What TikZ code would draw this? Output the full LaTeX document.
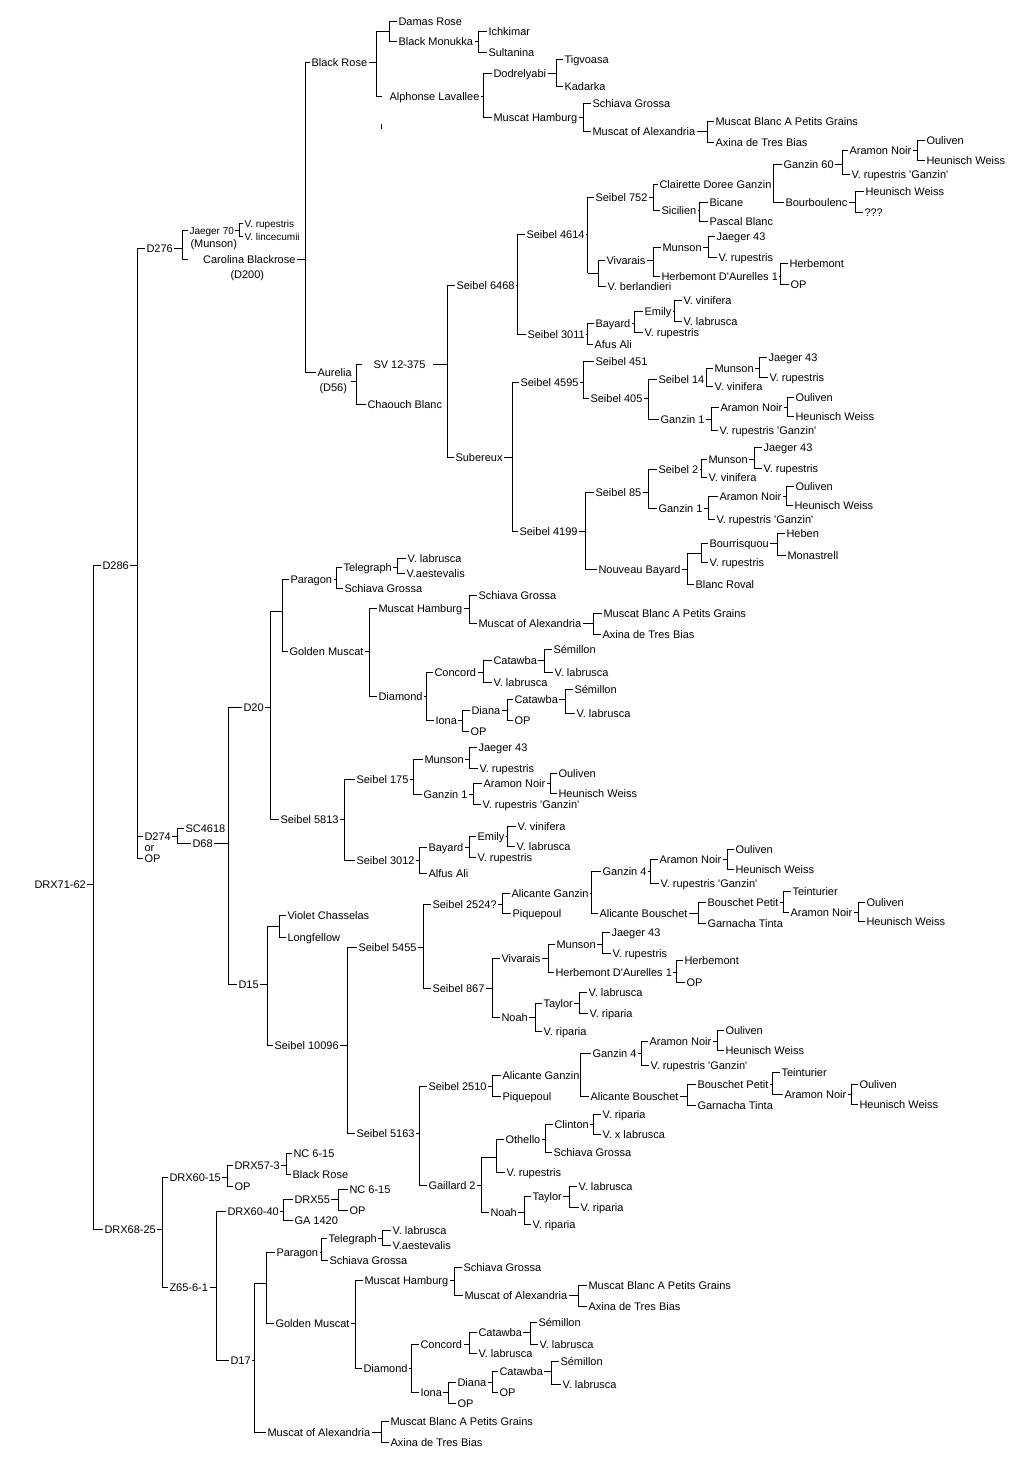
\documentclass[tikz,border=0pt]{standalone}
\usepackage{fontspec}
\setmainfont{Liberation Sans}[Ligatures=TeXOff]
\newcommand\pair[4]{%
  \coordinate (bar) at (#2,0);
  \draw (#1.east) -- (#1.east -| bar);
  \draw (#3.west) -- (#3.west -| bar) -- (#4.west -| bar) -- (#4.west);}

\begin{document}
\begin{tikzpicture}[x=1pt,y=-1pt,line width=1pt,
    every node/.style={anchor=west,inner xsep=1pt,inner ysep=0pt,text height=9pt,text depth=1pt,font=\fontsize{11}{13}\selectfont},
    junc/.style={inner sep=0pt,text height=0pt,text depth=0pt,minimum size=0pt},
    small/.style={font=\fontsize{10}{11}\selectfont,text height=8pt,text depth=0pt}]
    \fill[white] (0,0) rectangle (1010,1457);
    \node (root) at (33,884) {DRX71-62};
    \node (d286) at (101,565) {D286};
    \node (drx6825) at (103,1229) {DRX68-25};
    \pair{root}{93}{d286}{drx6825}

    \node (d276) at (145,248) {D276};
    \node (d274) at (143,836) {D274};
    \node (ortext) at (143,847) {or};
    \node (opd) at (143,858) {OP};
    \pair{d286}{137}{d276}{opd}
    \draw (d274.west -| bar) -- (d274.west);

    \node[small] (jaeger70) at (188,230) {Jaeger 70};
    \node (munsonnote) at (189,243) {(Munson)};
    \node[anchor=east] (carolina) at (297,259) {Carolina Blackrose};
    \node (d200) at (229,274) {(D200)};
    \coordinate (bar) at (182,0);
    \draw (d276.east) -- (d276.east -| bar);
    \draw (jaeger70.west) -- (jaeger70.west -| bar) -- (carolina.west -| bar) -- ++(6,0);
    \node[small] (vrup0) at (243,223) {V. rupestris};
    \node[small] (vlinc) at (243,236) {V. lincecumii};
    \pair{jaeger70}{239}{vrup0}{vlinc}

    \node (blackrose) at (310,62) {Black Rose};
    \node (aurelia) at (316,372) {Aurelia};
    \node (d56) at (318,387) {(D56)};
    \node[junc] (aureliaout) at (350,381) {};
    \pair{carolina}{305}{blackrose}{aurelia}

    \node[junc] (brx) at (376,31) {};
    \node[junc] (alphx) at (382,96) {};
    \node (alphonse) at (388,96) {Alphonse Lavallee};
    \pair{blackrose}{376}{brx}{alphx}
    \node (damas) at (397,21) {Damas Rose};
    \node (monukka) at (397,41) {Black Monukka};
    \pair{brx}{389}{damas}{monukka}
    \node (ichkimar) at (487,31) {Ichkimar};
    \node (sultanina) at (487,52) {Sultanina};
    \pair{monukka}{478}{ichkimar}{sultanina}
    \node (dodrelyabi) at (492,73) {Dodrelyabi};
    \node (hamburgA) at (492,117) {Muscat Hamburg};
    \pair{alphonse}{483}{dodrelyabi}{hamburgA}
    \node (tigvoasa) at (563,59) {Tigvoasa};
    \node (kadarka) at (563,86) {Kadarka};
    \pair{dodrelyabi}{556}{tigvoasa}{kadarka}
    \node (schiavaA) at (591,103) {Schiava Grossa};
    \node (alexA) at (591,131) {Muscat of Alexandria};
    \pair{hamburgA}{583}{schiavaA}{alexA}
    \node (blancA) at (714,121) {Muscat Blanc A Petits Grains};
    \node (axinaA) at (714,142) {Axina de Tres Bias};
    \pair{alexA}{707}{blancA}{axinaA}
    \draw (381,124) -- (381,129);

    \node[junc] (svin) at (362,364) {};
    \node (sv12375) at (372,364) {SV 12-375};
    \node[junc] (svout) at (432,364) {};
    \node (chaouch) at (366,404) {Chaouch Blanc};
    \pair{aureliaout}{356}{svin}{chaouch}
    \node (s6468) at (455,285) {Seibel 6468};
    \node (subereux) at (454,457) {Subereux};
    \pair{svout}{447}{s6468}{subereux}

    \node (s4614) at (525,234) {Seibel 4614};
    \node (s3011) at (526,334) {Seibel 3011};
    \pair{s6468}{517}{s4614}{s3011}
    \node (s752) at (594,197) {Seibel 752};
    \node[junc] (vivx) at (587,273) {};
    \pair{s4614}{587}{s752}{vivx}
    \node (vivaraisA) at (605,260) {Vivarais};
    \node (berland) at (606,286) {V. berlandieri};
    \pair{vivx}{598}{vivaraisA}{berland}
    \node (clairette) at (658,184) {Clairette Doree Ganzin};
    \node (sicilien) at (660,210) {Sicilien};
    \pair{s752}{653}{clairette}{sicilien}
    \node (bicane) at (708,202) {Bicane};
    \node (pascal) at (708,221) {Pascal Blanc};
    \pair{sicilien}{699}{bicane}{pascal}
    \node (ganzin60) at (782,164) {Ganzin 60};
    \node (bourboulenc) at (784,202) {Bourboulenc};
    \pair{clairette}{773}{ganzin60}{bourboulenc}
    \node (aramonA) at (848,150) {Aramon Noir};
    \node (vrgA) at (850,174) {V. rupestris 'Ganzin'};
    \pair{ganzin60}{842}{aramonA}{vrgA}
    \node (oulivenA) at (925,140) {Ouliven};
    \node (heunischA) at (925,160) {Heunisch Weiss};
    \pair{aramonA}{917}{oulivenA}{heunischA}
    \node (heunischB) at (864,191) {Heunisch Weiss};
    \node (unknown) at (863,212) {???};
    \pair{bourboulenc}{855}{heunischB}{unknown}
    \node (munsonA) at (661,247) {Munson};
    \node (herbA) at (660,276) {Herbemont D'Aurelles 1};
    \pair{vivaraisA}{653}{munsonA}{herbA}
    \node (jaegerA) at (715,236) {Jaeger 43};
    \node (vrupA) at (717,257) {V. rupestris};
    \pair{munsonA}{708}{jaegerA}{vrupA}
    \node (herbemontA) at (788,263) {Herbemont};
    \node (opA) at (789,284) {OP};
    \pair{herbA}{780}{herbemontA}{opA}
    \node (bayardA) at (594,323) {Bayard};
    \node (afus) at (593,344) {Afus Ali};
    \pair{s3011}{587}{bayardA}{afus}
    \node (emilyA) at (643,311) {Emily};
    \node (vrupB) at (643,332) {V. rupestris};
    \pair{bayardA}{634}{emilyA}{vrupB}
    \node (viniferaA) at (682,300) {V. vinifera};
    \node (labruscaA) at (682,321) {V. labrusca};
    \pair{emilyA}{674}{viniferaA}{labruscaA}

    \node (s4595) at (519,382) {Seibel 4595};
    \node (s4199) at (518,531) {Seibel 4199};
    \pair{subereux}{512}{s4595}{s4199}
    \node (s451) at (594,361) {Seibel 451};
    \node (s405) at (589,398) {Seibel 405};
    \pair{s4595}{583}{s451}{s405}
    \node (s14) at (657,379) {Seibel 14};
    \node (ganzin1A) at (659,419) {Ganzin 1};
    \pair{s405}{648}{s14}{ganzin1A}
    \node (munsonB) at (713,368) {Munson};
    \node (viniferaB) at (713,386) {V. vinifera};
    \pair{s14}{706}{munsonB}{viniferaB}
    \node (jaegerB) at (767,357) {Jaeger 43};
    \node (vrupC) at (768,377) {V. rupestris};
    \pair{munsonB}{759}{jaegerB}{vrupC}
    \node (aramonB) at (719,407) {Aramon Noir};
    \node (vrgB) at (718,430) {V. rupestris 'Ganzin'};
    \pair{ganzin1A}{711}{aramonB}{vrgB}
    \node (oulivenB) at (794,397) {Ouliven};
    \node (heunischC) at (794,416) {Heunisch Weiss};
    \pair{aramonB}{787}{oulivenB}{heunischC}
    \node (s85) at (594,492) {Seibel 85};
    \node (nbayard) at (597,569) {Nouveau Bayard};
    \pair{s4199}{585}{s85}{nbayard}
    \node (s2) at (657,469) {Seibel 2};
    \node (ganzin1B) at (657,508) {Ganzin 1};
    \pair{s85}{648}{s2}{ganzin1B}
    \node (munsonC) at (707,459) {Munson};
    \node (viniferaC) at (707,477) {V. vinifera};
    \pair{s2}{701}{munsonC}{viniferaC}
    \node (jaegerC) at (762,447) {Jaeger 43};
    \node (vrupD) at (762,468) {V. rupestris};
    \pair{munsonC}{754}{jaegerC}{vrupD}
    \node (aramonC) at (718,496) {Aramon Noir};
    \node (vrgC) at (715,519) {V. rupestris 'Ganzin'};
    \pair{ganzin1B}{708}{aramonC}{vrgC}
    \node (oulivenC) at (794,486) {Ouliven};
    \node (heunischD) at (793,505) {Heunisch Weiss};
    \pair{aramonC}{786}{oulivenC}{heunischD}
    \node[junc] (bourx) at (687,553) {};
    \node (blancroyal) at (694,584) {Blanc Roval};
    \pair{nbayard}{687}{bourx}{blancroyal}
    \node (bourr) at (708,543) {Bourrisquou};
    \node (vrupE) at (708,562) {V. rupestris};
    \pair{bourx}{701}{bourr}{vrupE}
    \node (heben) at (785,533) {Heben};
    \node (monastrell) at (786,555) {Monastrell};
    \pair{bourr}{777}{heben}{monastrell}

    \node (sc4618) at (184,828) {SC4618};
    \node (d68) at (191,843) {D68};
    \pair{d274}{177}{sc4618}{d68}
    \node (d20) at (242,707) {D20};
    \node (d15) at (237,984) {D15};
    \pair{d68}{228}{d20}{d15}

    \node[junc] (parx) at (270,611) {};
    \node (s5813) at (279,819) {Seibel 5813};
    \pair{d20}{270}{parx}{s5813}
    \node (paragonA) at (289,579) {Paragon};
    \node (goldenA) at (288,651) {Golden Muscat};
    \pair{parx}{282}{paragonA}{goldenA}
    \node (telegraphA) at (342,567) {Telegraph};
    \node (schiavaB) at (343,588) {Schiava Grossa};
    \pair{paragonA}{336}{telegraphA}{schiavaB}
    \node (labruscaB) at (406,558) {V. labrusca};
    \node (aestA) at (405,573) {V.aestevalis};
    \pair{telegraphA}{397}{labruscaB}{aestA}
    \node (hamburgB) at (377,608) {Muscat Hamburg};
    \node (diamondA) at (377,696) {Diamond};
    \pair{goldenA}{369}{hamburgB}{diamondA}
    \node (schiavaC) at (477,595) {Schiava Grossa};
    \node (alexB) at (477,623) {Muscat of Alexandria};
    \pair{hamburgB}{469}{schiavaC}{alexB}
    \node (blancB) at (602,613) {Muscat Blanc A Petits Grains};
    \node (axinaB) at (601,634) {Axina de Tres Bias};
    \pair{alexB}{593}{blancB}{axinaB}
    \node (concordA) at (433,672) {Concord};
    \node (ionaA) at (434,720) {Iona};
    \pair{diamondA}{426}{concordA}{ionaA}
    \node (catawbaA) at (492,660) {Catawba};
    \node (labruscaC) at (492,682) {V. labrusca};
    \pair{concordA}{483}{catawbaA}{labruscaC}
    \node (semillonA) at (552,649) {Sémillon};
    \node (labruscaD) at (553,672) {V. labrusca};
    \pair{catawbaA}{544}{semillonA}{labruscaD}
    \node (dianaA) at (470,710) {Diana};
    \node (opB) at (469,731) {OP};
    \pair{ionaA}{462}{dianaA}{opB}
    \node (catawbaB) at (513,699) {Catawba};
    \node (opC) at (513,720) {OP};
    \pair{dianaA}{507}{catawbaB}{opC}
    \node (semillonB) at (573,689) {Sémillon};
    \node (labruscaE) at (575,713) {V. labrusca};
    \pair{catawbaB}{565}{semillonB}{labruscaE}

    \node (s175) at (355,779) {Seibel 175};
    \node (s3012) at (355,860) {Seibel 3012};
    \pair{s5813}{344}{s175}{s3012}
    \node (munsonD) at (423,759) {Munson};
    \node (ganzin1C) at (422,794) {Ganzin 1};
    \pair{s175}{413}{munsonD}{ganzin1C}
    \node (jaegerD) at (477,747) {Jaeger 43};
    \node (vrupF) at (478,768) {V. rupestris};
    \pair{munsonD}{469}{jaegerD}{vrupF}
    \node (aramonD) at (482,783) {Aramon Noir};
    \node (vrgD) at (481,804) {V. rupestris 'Ganzin'};
    \pair{ganzin1C}{473}{aramonD}{vrgD}
    \node (oulivenD) at (557,773) {Ouliven};
    \node (heunischE) at (557,793) {Heunisch Weiss};
    \pair{aramonD}{550}{oulivenD}{heunischE}
    \node (bayardB) at (427,847) {Bayard};
    \node (alfus) at (427,873) {Alfus Ali};
    \pair{s3012}{419}{bayardB}{alfus}
    \node (emilyB) at (476,836) {Emily};
    \node (vrupG) at (476,857) {V. rupestris};
    \pair{bayardB}{469}{emilyB}{vrupG}
    \node (viniferaD) at (516,826) {V. vinifera};
    \node (labruscaF) at (515,846) {V. labrusca};
    \pair{emilyB}{507}{viniferaD}{labruscaF}

    \node[junc] (vcx) at (267,926) {};
    \node (s10096) at (273,1045) {Seibel 10096};
    \pair{d15}{267}{vcx}{s10096}
    \node (violet) at (286,915) {Violet Chasselas};
    \node (longfellow) at (286,937) {Longfellow};
    \pair{vcx}{279}{violet}{longfellow}
    \node (s5455) at (357,947) {Seibel 5455};
    \node (s5163) at (355,1133) {Seibel 5163};
    \pair{s10096}{347}{s5455}{s5163}
    \node (s2524) at (431,904) {Seibel 2524?};
    \node (s867) at (431,988) {Seibel 867};
    \pair{s5455}{423}{s2524}{s867}
    \node (alicanteA) at (510,893) {Alicante Ganzin};
    \node (piquepoulA) at (511,913) {Piquepoul};
    \pair{s2524}{502}{alicanteA}{piquepoulA}
    \node (ganzin4A) at (601,871) {Ganzin 4};
    \node (bouschetA) at (598,913) {Alicante Bouschet};
    \pair{alicanteA}{591}{ganzin4A}{bouschetA}
    \node (aramonE) at (658,859) {Aramon Noir};
    \node (vrgE) at (659,883) {V. rupestris 'Ganzin'};
    \pair{ganzin4A}{650}{aramonE}{vrgE}
    \node (oulivenE) at (734,849) {Ouliven};
    \node (heunischF) at (734,869) {Heunisch Weiss};
    \pair{aramonE}{727}{oulivenE}{heunischF}
    \node (petitA) at (706,902) {Bouschet Petit};
    \node (garnachaA) at (706,923) {Garnacha Tinta};
    \pair{bouschetA}{698}{petitA}{garnachaA}
    \node (teintA) at (791,891) {Teinturier};
    \node (aramonF) at (789,912) {Aramon Noir};
    \pair{petitA}{783}{teintA}{aramonF}
    \node (oulivenF) at (865,902) {Ouliven};
    \node (heunischG) at (865,921) {Heunisch Weiss};
    \pair{aramonF}{858}{oulivenF}{heunischG}
    \node (vivaraisB) at (500,958) {Vivarais};
    \node (noahA) at (500,1017) {Noah};
    \pair{s867}{492}{vivaraisB}{noahA}
    \node (munsonE) at (555,944) {Munson};
    \node (herbB) at (554,972) {Herbemont D'Aurelles 1};
    \pair{vivaraisB}{548}{munsonE}{herbB}
    \node (jaegerE) at (610,932) {Jaeger 43};
    \node (vrupH) at (611,953) {V. rupestris};
    \pair{munsonE}{602}{jaegerE}{vrupH}
    \node (herbemontB) at (683,960) {Herbemont};
    \node (opD) at (685,982) {OP};
    \pair{herbB}{676}{herbemontB}{opD}
    \node (taylorA) at (542,1003) {Taylor};
    \node (ripariaA) at (542,1031) {V. riparia};
    \pair{noahA}{535}{taylorA}{ripariaA}
    \node (labruscaG) at (587,992) {V. labrusca};
    \node (ripariaB) at (588,1013) {V. riparia};
    \pair{taylorA}{579}{labruscaG}{ripariaB}

    \node (s2510) at (427,1086) {Seibel 2510};
    \node (gaillard) at (427,1185) {Gaillard 2};
    \pair{s5163}{419}{s2510}{gaillard}
    \node (alicanteB) at (501,1075) {Alicante Ganzin};
    \node (piquepoulB) at (501,1096) {Piquepoul};
    \pair{s2510}{492}{alicanteB}{piquepoulB}
    \node (ganzin4B) at (591,1053) {Ganzin 4};
    \node (bouschetB) at (589,1096) {Alicante Bouschet};
    \pair{alicanteB}{580}{ganzin4B}{bouschetB}
    \node (aramonG) at (648,1041) {Aramon Noir};
    \node (vrgF) at (649,1065) {V. rupestris 'Ganzin'};
    \pair{ganzin4B}{641}{aramonG}{vrgF}
    \node (oulivenG) at (724,1030) {Ouliven};
    \node (heunischH) at (724,1050) {Heunisch Weiss};
    \pair{aramonG}{717}{oulivenG}{heunischH}
    \node (petitB) at (696,1084) {Bouschet Petit};
    \node (garnachaB) at (696,1105) {Garnacha Tinta};
    \pair{bouschetB}{687}{petitB}{garnachaB}
    \node (teintB) at (780,1072) {Teinturier};
    \node (aramonH) at (783,1094) {Aramon Noir};
    \pair{petitB}{772}{teintB}{aramonH}
    \node (oulivenH) at (858,1084) {Ouliven};
    \node (heunischI) at (858,1104) {Heunisch Weiss};
    \pair{aramonH}{851}{oulivenH}{heunischI}
    \node[junc] (othx) at (481,1157) {};
    \node (noahB) at (489,1212) {Noah};
    \pair{gaillard}{481}{othx}{noahB}
    \node (othello) at (504,1139) {Othello};
    \node (vrupI) at (505,1172) {V. rupestris};
    \pair{othx}{496}{othello}{vrupI}
    \node (clinton) at (553,1124) {Clinton};
    \node (schiavaD) at (552,1152) {Schiava Grossa};
    \pair{othello}{545}{clinton}{schiavaD}
    \node (ripariaC) at (601,1114) {V. riparia};
    \node (xlabrusca) at (601,1134) {V. x labrusca};
    \pair{clinton}{593}{ripariaC}{xlabrusca}
    \node (taylorB) at (531,1196) {Taylor};
    \node (ripariaD) at (531,1224) {V. riparia};
    \pair{noahB}{524}{taylorB}{ripariaD}
    \node (labruscaH) at (577,1186) {V. labrusca};
    \node (ripariaE) at (579,1207) {V. riparia};
    \pair{taylorB}{569}{labruscaH}{ripariaE}

    \node (drx6015) at (168,1177) {DRX60-15};
    \node (z6561) at (168,1287) {Z65-6-1};
    \pair{drx6825}{162}{drx6015}{z6561}
    \node (drx573) at (233,1165) {DRX57-3};
    \node (opE) at (233,1186) {OP};
    \pair{drx6015}{227}{drx573}{opE}
    \node (nc615A) at (292,1153) {NC 6-15};
    \node (blackroseB) at (291,1174) {Black Rose};
    \pair{drx573}{286}{nc615A}{blackroseB}
    \node (drx6040) at (226,1211) {DRX60-40};
    \node (d17) at (229,1360) {D17};
    \pair{z6561}{216}{drx6040}{d17}
    \node (drx55) at (293,1199) {DRX55};
    \node (ga1420) at (293,1220) {GA 1420};
    \pair{drx6040}{283}{drx55}{ga1420}
    \node (nc615B) at (348,1189) {NC 6-15};
    \node (opF) at (348,1210) {OP};
    \pair{drx55}{338}{nc615B}{opF}

    \node[junc] (parxB) at (254,1283) {};
    \node (alexC) at (266,1432) {Muscat of Alexandria};
    \pair{d17}{254}{parxB}{alexC}
    \node (paragonB) at (275,1252) {Paragon};
    \node (goldenB) at (274,1323) {Golden Muscat};
    \pair{parxB}{266}{paragonB}{goldenB}
    \node (telegraphB) at (327,1238) {Telegraph};
    \node (schiavaE) at (328,1260) {Schiava Grossa};
    \pair{paragonB}{321}{telegraphB}{schiavaE}
    \node (labruscaI) at (391,1230) {V. labrusca};
    \node (aestB) at (391,1245) {V.aestevalis};
    \pair{telegraphB}{382}{labruscaI}{aestB}
    \node (hamburgC) at (363,1280) {Muscat Hamburg};
    \node (diamondB) at (362,1368) {Diamond};
    \pair{goldenB}{355}{hamburgC}{diamondB}
    \node (schiavaF) at (462,1267) {Schiava Grossa};
    \node (alexD) at (463,1295) {Muscat of Alexandria};
    \pair{hamburgC}{454}{schiavaF}{alexD}
    \node (blancC) at (587,1285) {Muscat Blanc A Petits Grains};
    \node (axinaC) at (587,1306) {Axina de Tres Bias};
    \pair{alexD}{578}{blancC}{axinaC}
    \node (concordB) at (419,1344) {Concord};
    \node (ionaB) at (419,1392) {Iona};
    \pair{diamondB}{411}{concordB}{ionaB}
    \node (catawbaC) at (477,1332) {Catawba};
    \node (labruscaJ) at (477,1353) {V. labrusca};
    \pair{concordB}{469}{catawbaC}{labruscaJ}
    \node (semillonC) at (537,1322) {Sémillon};
    \node (labruscaK) at (538,1344) {V. labrusca};
    \pair{catawbaC}{530}{semillonC}{labruscaK}
    \node (dianaB) at (456,1382) {Diana};
    \node (opG) at (456,1403) {OP};
    \pair{ionaB}{448}{dianaB}{opG}
    \node (catawbaD) at (498,1371) {Catawba};
    \node (opH) at (498,1392) {OP};
    \pair{dianaB}{492}{catawbaD}{opH}
    \node (semillonD) at (559,1361) {Sémillon};
    \node (labruscaL) at (561,1384) {V. labrusca};
    \pair{catawbaD}{551}{semillonD}{labruscaL}
    \node (blancD) at (389,1421) {Muscat Blanc A Petits Grains};
    \node (axinaD) at (389,1442) {Axina de Tres Bias};
    \pair{alexC}{381}{blancD}{axinaD}
\end{tikzpicture}
\end{document}
